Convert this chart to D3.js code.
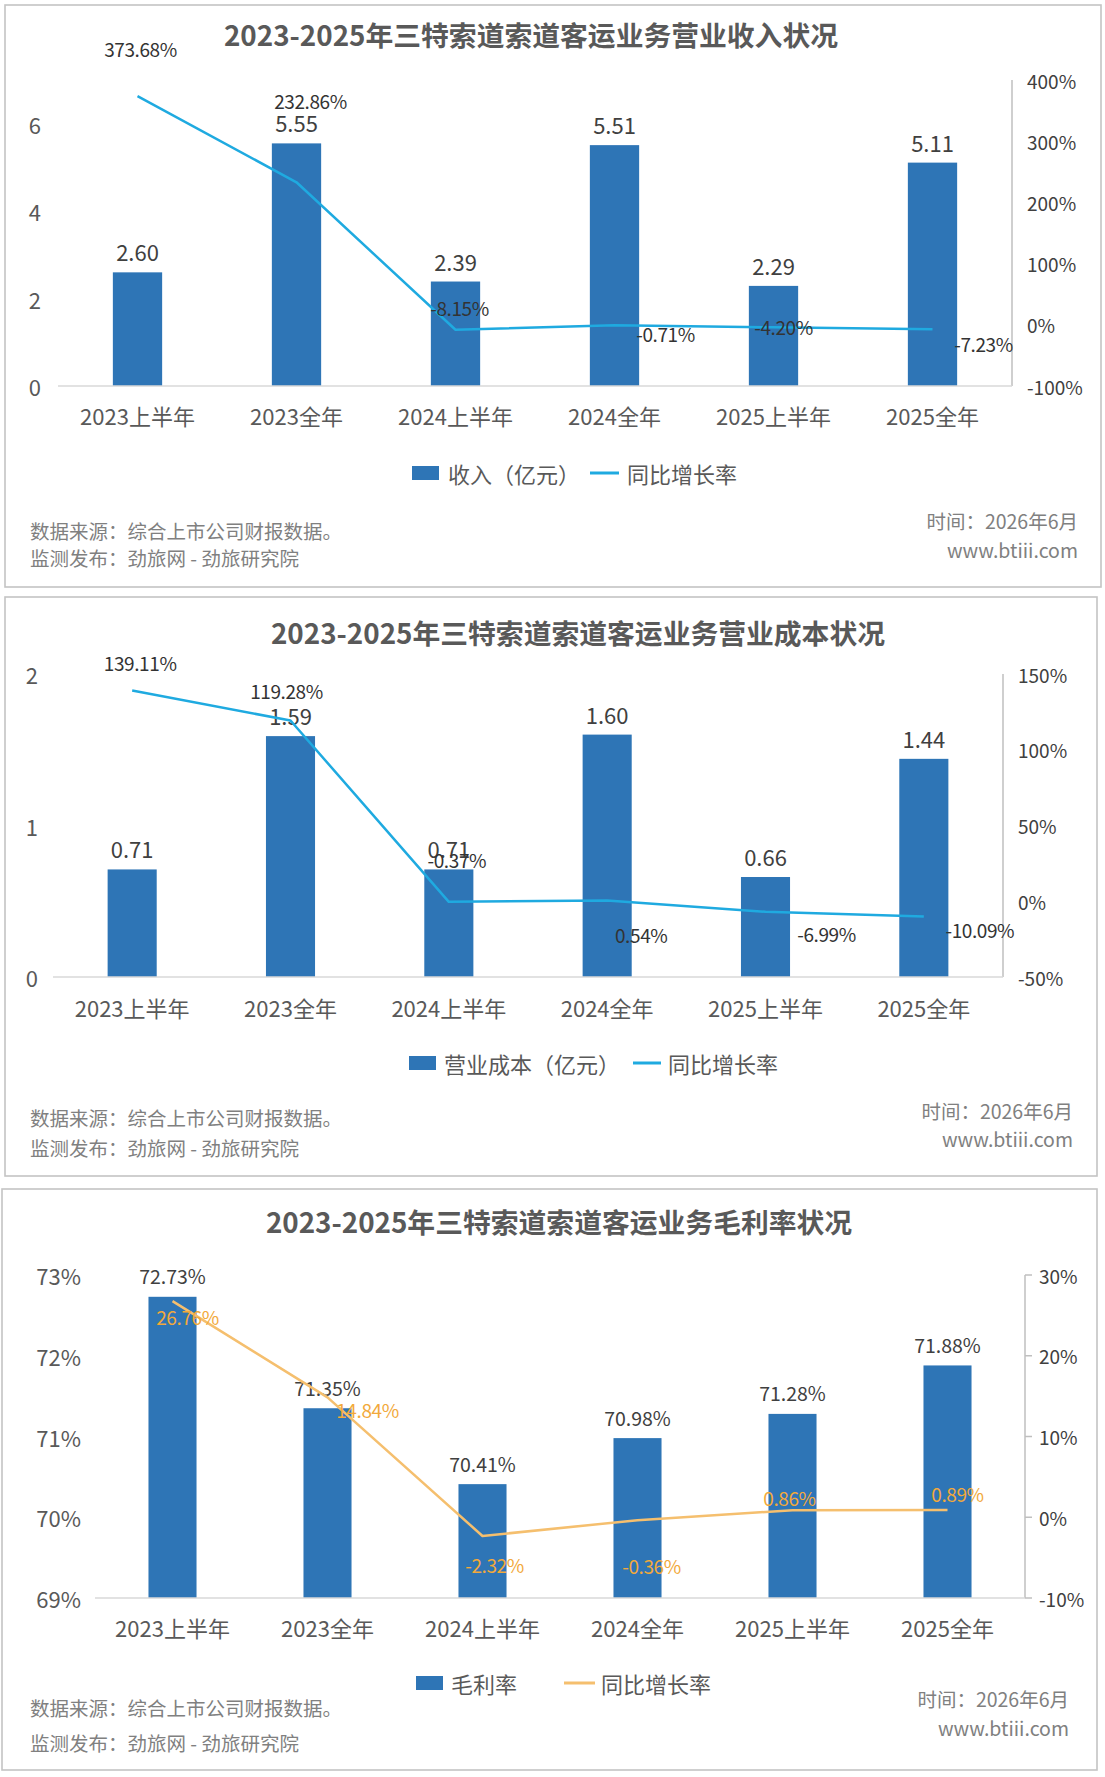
<!DOCTYPE html>
<html><head><meta charset="utf-8">
<script src="https://cdn.jsdelivr.net/npm/d3@7"></script>
<style>
body{margin:0;background:#fff;}
svg{display:block;}
text{font-family:"Noto Sans CJK SC","Noto Sans",sans-serif;}
</style></head>
<body>
<svg id="chart" width="1105" height="1777"></svg>
<script>
// ---------- DATA ----------
const categories = ["2023上半年","2023全年","2024上半年","2024全年","2025上半年","2025全年"];

const revenue = [2.60, 5.55, 2.39, 5.51, 2.29, 5.11];
const revenueGrowth = [373.68, 232.86, -8.15, -0.71, -4.20, -7.23];
const revLeftTicks = [0, 2, 4, 6];
const revRightTicks = [-100, 0, 100, 200, 300, 400];

const cost = [0.71, 1.59, 0.71, 1.60, 0.66, 1.44];
const costGrowth = [139.11, 119.28, -0.37, 0.54, -6.99, -10.09];
const costLeftTicks = [0, 1, 2];
const costRightTicks = [-50, 0, 50, 100, 150];

const margin = [72.73, 71.35, 70.41, 70.98, 71.28, 71.88];
const marginGrowth = [26.76, 14.84, -2.32, -0.36, 0.86, 0.89];
const marginLeftTicks = [69, 70, 71, 72, 73];
const marginRightTicks = [-10, 0, 10, 20, 30];

const titles = [
  "2023-2025年三特索道索道客运业务营业收入状况",
  "2023-2025年三特索道索道客运业务营业成本状况",
  "2023-2025年三特索道索道客运业务毛利率状况"
];
const barLegend = ["收入（亿元）", "营业成本（亿元）", "毛利率"];
const lineLegend = "同比增长率";
const footLeft = ["数据来源：综合上市公司财报数据。", "监测发布：劲旅网 - 劲旅研究院"];
const footRight = ["时间：2026年6月", "www.btiii.com"];

// ---------- LAYOUT / STYLE ----------
const BAR = "#2E75B6";
const svg = d3.select("#chart");
svg.append("rect").attr("width",1105).attr("height",1777).attr("fill","#fff");

const panels = [
  {
    box:[5,5,1096,582], titleX:531, titleY:34,
    x0:58, x1:1012, yTop:80, yBot:386,
    leftDomain:[0,7], leftTicks:revLeftTicks, leftFmt:d=>d, leftX:41,
    rightDomain:[-100,400], rightTicks:revRightTicks, rightX:1027, rightTickLen:0,
    bars:revenue, barFmt:d=>d.toFixed(2), line:revenueGrowth,
    lineColor:"#1FAAE0", lineLabelColor:"#333",
    lblOff:[[3,-48],[14,-82],[4,-22],[51,8],[10,-1],[51,14]],
    xLabelY:415,
    legendY:473, legSq:412, legT1:448, legLine:[590,619], legT2:627,
    footL:[530,557], footR:[520,549], footRX:1078
  },
  {
    box:[5,597,1092,579], titleX:578, titleY:632,
    x0:53, x1:1003, yTop:674, yBot:977,
    leftDomain:[0,2], leftTicks:costLeftTicks, leftFmt:d=>d, leftX:38,
    rightDomain:[-50,150], rightTicks:costRightTicks, rightX:1018, rightTickLen:0,
    bars:cost, barFmt:d=>d.toFixed(2), line:costGrowth,
    lineColor:"#1FAAE0", lineLabelColor:"#333",
    lblOff:[[8,-28],[-4,-30],[8,-42],[34,34],[61,22],[56,13]],
    xLabelY:1007,
    legendY:1063, legSq:409, legT1:444, legLine:[633,661], legT2:668,
    footL:[1117,1147], footR:[1110,1138], footRX:1073
  },
  {
    box:[2,1189,1095,581], titleX:559, titleY:1221,
    x0:95, x1:1025, yTop:1275, yBot:1598,
    leftDomain:[69,73], leftTicks:marginLeftTicks, leftFmt:d=>d+"%", leftX:81,
    rightDomain:[-10,30], rightTicks:marginRightTicks, rightX:1039, rightTickLen:7,
    bars:margin, barFmt:d=>d.toFixed(2)+"%", line:marginGrowth,
    lineColor:"#F5BF6E", lineLabelColor:"#F2A93B",
    lblOff:[[15,15],[40,12],[12,29],[14,45],[-3,-13],[10,-17]],
    xLabelY:1627,
    legendY:1683, legSq:416, legT1:451, legLine:[564,595], legT2:601,
    footL:[1707,1742], footR:[1698,1727], footRX:1069
  }
];

panels.forEach((p, pi) => {
  const g = svg.append("g");
  // border
  g.append("rect").attr("x",p.box[0]).attr("y",p.box[1]).attr("width",p.box[2]).attr("height",p.box[3])
    .attr("fill","#fff").attr("stroke","#c4c4c4").attr("stroke-width",1.6);
  // title
  g.append("text").attr("x",p.titleX).attr("y",p.titleY).attr("text-anchor","middle")
    .attr("dominant-baseline","central").attr("font-size",27.8).attr("font-weight",700)
    .attr("fill","#595959").text(titles[pi]);

  const x = d3.scaleBand().domain(categories).range([p.x0,p.x1]).paddingInner(0.69).paddingOuter(0.345);
  const yL = d3.scaleLinear().domain(p.leftDomain).range([p.yBot,p.yTop]);
  const yR = d3.scaleLinear().domain(p.rightDomain).range([p.yBot,p.yTop]);
  const cx = c => x(c) + x.bandwidth()/2;

  // left axis labels
  g.append("g").selectAll("text").data(p.leftTicks).join("text")
    .attr("x",p.leftX).attr("y",d=>yL(d)).attr("text-anchor","end").attr("dominant-baseline","central")
    .attr("font-size",22).attr("fill","#595959").text(p.leftFmt);

  // right axis
  g.append("line").attr("x1",p.x1).attr("x2",p.x1).attr("y1",p.yTop).attr("y2",p.yBot)
    .attr("stroke","#bfbfbf").attr("stroke-width",1.5);
  if (p.rightTickLen) {
    g.append("g").selectAll("line").data(p.rightTicks).join("line")
      .attr("x1",p.x1).attr("x2",p.x1+p.rightTickLen).attr("y1",d=>yR(d)).attr("y2",d=>yR(d))
      .attr("stroke","#bfbfbf").attr("stroke-width",1.5);
  }
  g.append("g").selectAll("text").data(p.rightTicks).join("text")
    .attr("x",p.rightX).attr("y",d=>yR(d)).attr("dominant-baseline","central")
    .attr("font-size",19).attr("fill","#404040").text(d=>d+"%");

  // bars
  g.append("g").selectAll("rect").data(p.bars).join("rect")
    .attr("x",(d,i)=>x(categories[i])).attr("width",x.bandwidth())
    .attr("y",d=>yL(d)).attr("height",d=>p.yBot-yL(d)).attr("fill",BAR);

  // baseline
  g.append("line").attr("x1",p.x0).attr("x2",p.x1).attr("y1",p.yBot).attr("y2",p.yBot)
    .attr("stroke","#d9d9d9").attr("stroke-width",1.5);

  // bar labels
  g.append("g").selectAll("text").data(p.bars).join("text")
    .attr("x",(d,i)=>cx(categories[i])).attr("y",d=>yL(d)-21)
    .attr("text-anchor","middle").attr("dominant-baseline","central")
    .attr("font-size", pi===2 ? 19.5 : 22).attr("fill","#404040").text(p.barFmt);

  // line
  const lineGen = d3.line().x((d,i)=>cx(categories[i])).y(d=>yR(d));
  g.append("path").datum(p.line).attr("d",lineGen).attr("fill","none")
    .attr("stroke",p.lineColor).attr("stroke-width",2.5).attr("stroke-linejoin","round");

  // line labels
  g.append("g").selectAll("text").data(p.line).join("text")
    .attr("x",(d,i)=>cx(categories[i])+p.lblOff[i][0])
    .attr("y",(d,i)=>yR(d)+p.lblOff[i][1])
    .attr("text-anchor","middle").attr("dominant-baseline","central")
    .attr("font-size",19).attr("letter-spacing",-0.4).attr("fill",p.lineLabelColor)
    .text(d=>d.toFixed(2)+"%");

  // x labels
  g.append("g").selectAll("text").data(categories).join("text")
    .attr("x",d=>cx(d)).attr("y",p.xLabelY).attr("text-anchor","middle").attr("dominant-baseline","central")
    .attr("font-size",22).attr("fill","#595959").text(d=>d);

  // legend
  g.append("rect").attr("x",p.legSq).attr("y",p.legendY-7).attr("width",27).attr("height",14).attr("fill",BAR);
  g.append("text").attr("x",p.legT1).attr("y",p.legendY).attr("dominant-baseline","central")
    .attr("font-size",22).attr("fill","#595959").text(barLegend[pi]);
  g.append("line").attr("x1",p.legLine[0]).attr("x2",p.legLine[1]).attr("y1",p.legendY).attr("y2",p.legendY)
    .attr("stroke",p.lineColor).attr("stroke-width",3);
  g.append("text").attr("x",p.legT2).attr("y",p.legendY).attr("dominant-baseline","central")
    .attr("font-size",22).attr("fill","#595959").text(lineLegend);

  // footer
  footLeft.forEach((t,k)=>{
    g.append("text").attr("x",30).attr("y",p.footL[k]).attr("dominant-baseline","central")
      .attr("font-size",19.5).attr("fill","#808080").text(t);
  });
  footRight.forEach((t,k)=>{
    g.append("text").attr("x",p.footRX).attr("y",p.footR[k]).attr("text-anchor","end").attr("dominant-baseline","central")
      .attr("font-size",19.5).attr("fill","#808080").text(t);
  });
});
</script>
</body></html>
